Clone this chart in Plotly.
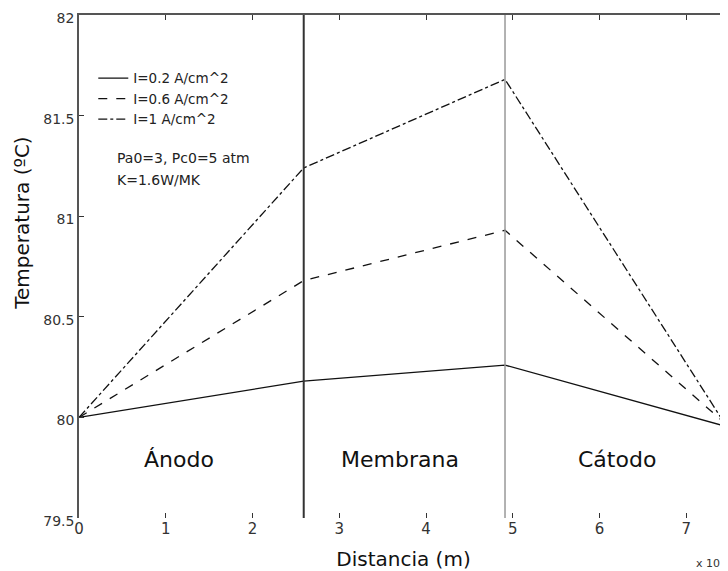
import plotly.graph_objects as go

x_pts = [0, 2.59, 4.91, 7.5]
series_names = ["I=0.2 A/cm^2", "I=0.6 A/cm^2", "I=1 A/cm^2"]
t_02 = [80.0, 80.18, 80.26, 79.95]
t_06 = [80.0, 80.68, 80.93, 79.95]
t_10 = [80.0, 81.24, 81.68, 79.93]
boundaries = [2.59, 4.91]
regions = ["Ánodo", "Membrana", "Cátodo"]
region_x = [1.15, 3.7, 6.2]
region_y = 79.79
x_ticks = [0, 1, 2, 3, 4, 5, 6, 7]
y_ticks = [79.5, 80, 80.5, 81, 81.5, 82]
y_ticklabels = ["79.5", "80", "80.5", "81", "81.5", "82"]
notes = ["Pa0=3, Pc0=5 atm", "K=1.6W/MK"]

font = "DejaVu Sans, Liberation Sans, sans-serif"
fig = go.Figure()
styles = ["solid", "dash", "dashdot"]
for name, ys, dash in zip(series_names, [t_02, t_06, t_10], styles):
    fig.add_trace(go.Scatter(x=x_pts, y=ys, mode="lines", name=name,
                             line=dict(color="#111", width=1.3, dash=dash)))

# invisible trace for top axis
fig.add_trace(go.Scatter(x=[0], y=[80], xaxis="x2", mode="markers",
                         marker=dict(opacity=0), showlegend=False, hoverinfo="skip"))

for b, col, w in zip(boundaries, ["#333", "#999"], [2, 1.5]):
    fig.add_shape(type="line", x0=b, x1=b, y0=0, y1=1, xref="x", yref="paper",
                  line=dict(color=col, width=w))

for t, xx in zip(regions, region_x):
    fig.add_annotation(x=xx, y=region_y, text=t, showarrow=False,
                       font=dict(size=22, color="#111", family=font))

for t, yy in zip(notes, [0.716, 0.672]):
    fig.add_annotation(x=0.055, y=yy, xref="paper", yref="paper", xanchor="left",
                       yanchor="middle", showarrow=False, text=t,
                       font=dict(size=14, color="#222", family=font))

fig.add_annotation(x=-0.0878, y=0.585, xref="paper", yref="paper", textangle=-90,
                   xanchor="center", yanchor="middle",
                   showarrow=False, text="Temperatura (ºC)",
                   font=dict(size=20, color="#111", family=font))

fig.add_annotation(x=0.948, y=0, xref="paper", yref="paper", xanchor="left", yanchor="middle",
                   yshift=-44, showarrow=False, text="x 10<sup>-4</sup>",
                   font=dict(size=11, color="#333", family=font))

fig.update_layout(
    width=720, height=563,
    margin=dict(l=71, r=0, t=7, b=53),
    paper_bgcolor="white", plot_bgcolor="white",
    font=dict(family=font, color="#333", size=14),
    showlegend=True,
    legend=dict(x=0.022, y=0.905, xanchor="left", yanchor="top",
                bgcolor="rgba(0,0,0,0)", font=dict(size=13.5, color="#222"),
                tracegroupgap=0, itemwidth=30),
    xaxis=dict(range=[0, 7.48], tickvals=x_ticks, ticks="inside", ticklen=5,
               tickcolor="#333", showline=False, showgrid=False, zeroline=False,
               automargin=False, ticklabeloverflow="allow",
               title=dict(text="Distancia (m)", font=dict(size=20, color="#111"), standoff=14),
               tickfont=dict(size=15, color="#333")),
    xaxis2=dict(range=[0, 7.48], overlaying="x", side="top", tickvals=x_ticks,
                ticks="inside", ticklen=5, tickcolor="#333", showline=True,
                linecolor="#555", linewidth=1.5, showticklabels=False,
                showgrid=False, zeroline=False, automargin=False),
    yaxis=dict(range=[79.5, 82], tickvals=y_ticks, ticktext=y_ticklabels,
               ticks="inside", ticklen=5, tickcolor="#333", showline=True,
               linecolor="#555", linewidth=1.5, showgrid=False, zeroline=False,
               automargin=False, ticklabeloverflow="allow", ticklabelshift=3,
               tickfont=dict(size=14, color="#333")),
)
fig.write_html("out.html")
